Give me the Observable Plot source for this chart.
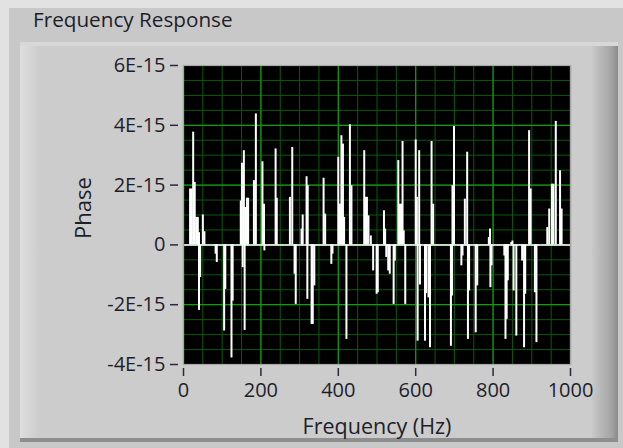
<!DOCTYPE html>
<html>
<head>
<meta charset="utf-8">
<script src="https://cdn.jsdelivr.net/npm/d3@7"></script>
<script src="https://cdn.jsdelivr.net/npm/@observablehq/plot@0.6"></script>
<style>
  html, body { margin: 0; padding: 0; }
  body { width: 623px; height: 448px; overflow: hidden; background: #c8c8c8; position: relative; font-family: "Open Sans", sans-serif; }
  #edgeTop { position: absolute; left: 0; top: 0; width: 623px; height: 8px; background: #e2e2e2; }
  #edgeLeft { position: absolute; left: 0; top: 0; width: 9px; height: 448px; background: #e2e2e2; }
  #panel { position: absolute; left: 20px; top: 42px; width: 598px; height: 400px; box-sizing: border-box;
           background: #cccccc; border-top: 4px solid #d8d8d8; border-bottom: 4px solid #8e8e8e; }
  #panelLeft { position: absolute; left: 20px; top: 46px; width: 20px; height: 392px; background: linear-gradient(to right, #dedede, #cccccc); }
  #panelRight { position: absolute; left: 592px; top: 46px; width: 26px; height: 392px; background: linear-gradient(to right, #c8c8c8, #a4a4a4 75%, #8a8a8a); }
  #title { position: absolute; left: 33px; top: 5px; font-size: 20.7px; color: #1e1e2a; white-space: nowrap; }
  #chart { position: absolute; left: 0; top: 0; }
</style>
</head>
<body>
<div id="edgeTop"></div>
<div id="edgeLeft"></div>
<div id="panel"></div>
<div id="panelLeft"></div>
<div id="panelRight"></div>
<div id="title">Frequency Response</div>
<div id="chart"></div>
<script>
// Frequency (Hz) of each spectral line
const freqs = [
  17, 21, 25, 29, 33, 37, 40, 40, 43, 50, 54, 83, 86, 105, 108, 124, 127,
  148, 151, 153, 155, 156, 158, 160,
  164, 167, 182, 187, 204, 208, 209, 238, 241, 275, 281, 287, 290,
  305, 308, 318, 320, 321, 331,
  334, 338, 362, 366, 382, 385, 400, 403, 406, 408, 412, 415, 421, 430, 434,
  467, 470, 474, 478, 484, 490, 499,
  502, 518, 521, 524, 529, 533, 543, 546, 555, 558, 562, 566, 569, 573,
  600, 603, 605, 609, 611, 624, 627, 633, 637, 641, 645,
  691, 694, 695, 699, 718, 721, 727, 733, 735, 738, 755, 759,
  789, 792, 793, 796, 829, 832,
  835, 838, 847, 850, 853, 860, 875, 880, 883, 893, 897, 908, 912,
  940, 945, 952, 956, 962, 973, 977
];
// Phase of each line, in units of 1E-15
const phaseE15 = [
  1.87, 1.87, 3.77, 2.09, 0.92, 0.92, 0.41, -2.19, -1.09, 1.0, 0.44, -0.31, -0.59, -2.88, -1.49, -3.78, -1.88,
  1.47, 2.73, -0.76, 1.25, 3.15, -2.86, 1.25,
  1.56, 1.56, 2.15, 4.38, 2.78, 1.36, -0.2, 3.21, 1.56, 1.59, 3.26, -0.98, -1.99,
  0.53, 1.0, 2.28, -1.82, 1.98, -2.66,
  -2.66, -1.37, 2.23, 1.03, -0.65, -0.31, 2.93, 1.36, 1.36, 3.65, 3.37, 0.92, -3.16, 4.02, 1.98,
  3.15, 1.59, 1.59, 0.97, 0.3, -0.87, -1.65,
  -1.6, 1.14, 0.53, -0.42, -0.87, -0.98, -1.99, -0.54, 2.82, 1.36, 1.36, 3.46, 0.47, -1.99,
  3.51, 1.59, -3.22, 3.15, -1.34, -3.22, -1.63, -1.77, -3.44, 3.46, 1.36,
  -3.39, -1.71, 1.98, 3.96, -0.7, -0.37, 1.53, 3.1, -3.16, -1.54, -2.94, -1.37,
  0.25, 0.53, -1.43, -0.7, -0.37, -3.16,
  -2.49, -1.2, 0.08, 0.13, -1.54, -3.05, -0.54, -3.44, -1.65, 3.82, 1.87, -1.6, -3.27,
  0.58, 1.2, 2.03, 2.03, 4.13, 2.48, 1.2
];

const xTicks = [0, 200, 400, 600, 800, 1000];
const xTickLabels = ["0", "200", "400", "600", "800", "1000"];
const yTicks = [-4e-15, -2e-15, 0, 2e-15, 4e-15, 6e-15];
const yTickLabels = ["-4E-15", "-2E-15", "0", "2E-15", "4E-15", "6E-15"];

const data = freqs.map((f, i) => ({ f, p: phaseE15[i] * 1e-15 }));

const xMinor = d3.range(0, 1001, 50);
const yMinor = d3.range(-8, 13).map(k => k * 0.5e-15);

const fontFam = "'Open Sans', sans-serif";
const textColor = "#1e1e2a";

const chart = Plot.plot({
  width: 623,
  height: 448,
  marginLeft: 183,
  marginRight: 53,
  marginTop: 65,
  marginBottom: 84,
  style: { background: "transparent", fontFamily: fontFam, fontSize: "20px", color: textColor, overflow: "visible" },
  x: { domain: [0, 1000] },
  y: { domain: [-4e-15, 6e-15] },
  marks: [
    Plot.frame({ fill: "black" }),
    Plot.ruleX(xMinor, { stroke: "#0b5a0b", strokeWidth: 1 }),
    Plot.ruleY(yMinor, { stroke: "#0b5a0b", strokeWidth: 1 }),
    Plot.ruleX(xTicks, { stroke: "#129a12", strokeWidth: 1.2 }),
    Plot.ruleY(yTicks, { stroke: "#129a12", strokeWidth: 1.2 }),
    Plot.ruleX(data, { x: "f", y1: 0, y2: "p", stroke: "white", strokeWidth: 2 }),
    Plot.ruleY([0], { stroke: "white", strokeWidth: 1.5 }),
    Plot.frame({ stroke: "#a8a8a8", strokeWidth: 1.2 }),
    Plot.axisY(yTicks, {
      anchor: "left", tickSize: 8, dx: -5, tickPadding: 5, stroke: "#2a2a3a", strokeWidth: 1.5,
      tickFormat: (d, i) => yTickLabels[i], fill: textColor, fontSize: 20, label: null
    }),
    Plot.axisX(xTicks, {
      anchor: "bottom", tickSize: 8, dy: 4, tickPadding: 6, stroke: "#2a2a3a", strokeWidth: 1.5,
      tickFormat: (d, i) => xTickLabels[i], fill: textColor, fontSize: 20, label: null
    }),
    Plot.text(["Phase"], { frameAnchor: "left", textAnchor: "middle", dx: -100, dy: -7, rotate: -90, fill: textColor, fontSize: 22 }),
    Plot.text(["Frequency (Hz)"], { frameAnchor: "bottom", dy: 69, fill: textColor, fontSize: 21.5 })
  ]
});
document.getElementById("chart").appendChild(chart);
</script>
</body>
</html>
